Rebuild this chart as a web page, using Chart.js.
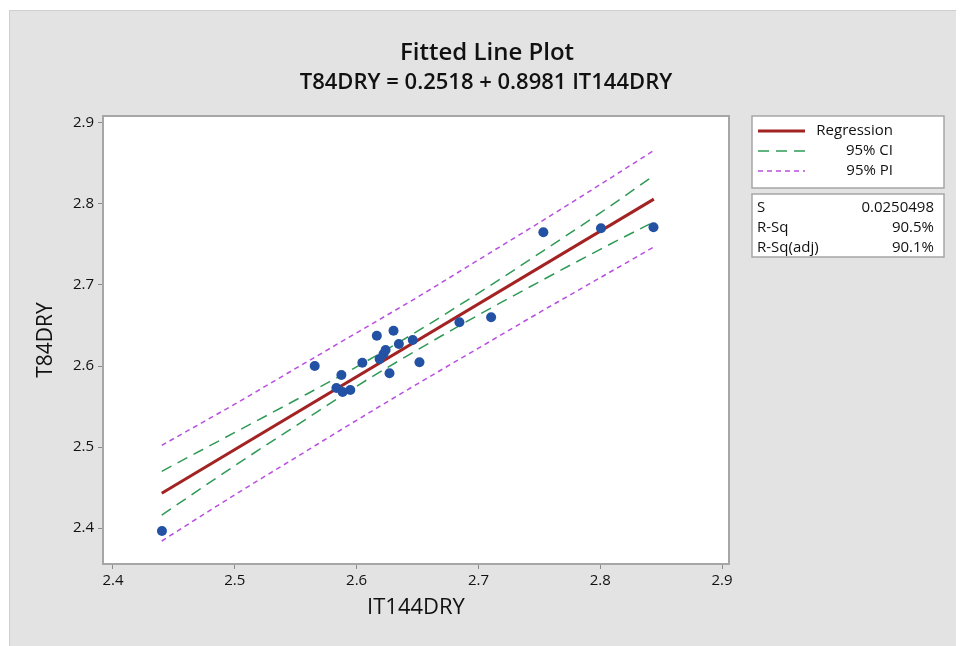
<!DOCTYPE html>
<html><head><meta charset="utf-8">
<script src="https://cdn.jsdelivr.net/npm/chart.js@4"></script>
<style>html,body{margin:0;padding:0;background:#fff}</style>
</head><body>
<canvas id="c" width="960" height="646"></canvas>
<script>
// Observations (IT144DRY, T84DRY)
const obsX = [2.4402, 2.5656, 2.5875, 2.5834, 2.5885, 2.5948, 2.6047, 2.6166, 2.6303, 2.6189, 2.6221,
              2.6238, 2.6270, 2.6347, 2.6461, 2.6516, 2.6844, 2.7104, 2.7533, 2.8006, 2.8437];
const obsY = [2.3963, 2.6000, 2.5889, 2.5728, 2.5679, 2.5704, 2.6041, 2.6374, 2.6436, 2.6086, 2.6148,
              2.6198, 2.5910, 2.6272, 2.6321, 2.6046, 2.6540, 2.6601, 2.7651, 2.7700, 2.7712];
// Regression line end points
const fitX = [2.440, 2.844];
const fitY = [2.443, 2.806];
// Confidence / prediction bands
const bandX   = [2.440, 2.500, 2.550, 2.600, 2.650, 2.700, 2.750, 2.800, 2.844];
const ciUpper = [2.470, 2.518, 2.558, 2.599, 2.643, 2.690, 2.739, 2.789, 2.835];
const ciLower = [2.416, 2.477, 2.526, 2.575, 2.620, 2.663, 2.704, 2.744, 2.778];
const piUpper = [2.502, 2.553, 2.597, 2.641, 2.685, 2.731, 2.777, 2.824, 2.866];
const piLower = [2.384, 2.441, 2.487, 2.533, 2.578, 2.622, 2.666, 2.709, 2.747];
// Tick labels
const xTicks = [2.4, 2.5, 2.6, 2.7, 2.8, 2.9];
const yTicks = [2.4, 2.5, 2.6, 2.7, 2.8, 2.9];
// Texts
const titleMain = 'Fitted Line Plot';
const titleSub = 'T84DRY = 0.2518 + 0.8981 IT144DRY';
const legendItems = ['Regression', '95% CI', '95% PI'];
const statNames = ['S', 'R-Sq', 'R-Sq(adj)'];
const statValues = ['0.0250498', '90.5%', '90.1%'];

const FONT = "'Open Sans', 'Noto Sans', sans-serif";
const C_REG = '#a32222', C_CI = '#2e9a55', C_PI = '#b94fe0', C_PT = '#2351a3';

const pairs = (xs, ys) => xs.map((x, i) => ({x: x, y: ys[i]}));

const decor = {
  id: 'decor',
  beforeDraw(chart) {
    const ctx = chart.ctx, a = chart.chartArea;
    ctx.save();
    ctx.fillStyle = '#ffffff';
    ctx.fillRect(0, 0, chart.width, chart.height);
    ctx.fillStyle = '#e3e3e3';
    ctx.fillRect(9, 10, 947, 636);
    ctx.fillStyle = '#cfcfcf';
    ctx.fillRect(9, 10, 947, 1);
    ctx.fillRect(9, 10, 1, 636);
    ctx.fillStyle = '#ffffff';
    ctx.fillRect(a.left, a.top, a.right - a.left, a.bottom - a.top);
    ctx.restore();
  },
  beforeDatasetsDraw(chart) {
    const ctx = chart.ctx, a = chart.chartArea;
    ctx.save();
    ctx.strokeStyle = '#a6a6a6';
    ctx.lineWidth = 2;
    ctx.strokeRect(a.left, a.top, a.right - a.left, a.bottom - a.top);
    ctx.restore();
  },
  afterDraw(chart) {
    const ctx = chart.ctx;
    ctx.save();
    ctx.fillStyle = '#111';
    ctx.textAlign = 'center';
    ctx.textBaseline = 'middle';
    ctx.font = "600 24px " + FONT;
    ctx.fillText(titleMain, 487, 53);
    ctx.font = "600 22px " + FONT;
    ctx.fillText(titleSub, 486, 83);

    // legend box
    const bx = 752, bw = 192;
    ctx.fillStyle = '#fff';
    ctx.fillRect(bx, 116, bw, 72);
    ctx.fillRect(bx, 194, bw, 63);
    ctx.strokeStyle = '#a6a6a6';
    ctx.lineWidth = 1.5;
    ctx.strokeRect(bx, 116, bw, 72);
    ctx.strokeRect(bx, 194, bw, 63);

    const rows = [131, 151, 171];
    const styles = [[C_REG, 3, []], [C_CI, 1.5, [11, 7]], [C_PI, 1.5, [5, 4]]];
    rows.forEach((ry, i) => {
      ctx.beginPath();
      ctx.strokeStyle = styles[i][0];
      ctx.lineWidth = styles[i][1];
      ctx.setLineDash(styles[i][2]);
      ctx.moveTo(758, ry);
      ctx.lineTo(805, ry);
      ctx.stroke();
    });
    ctx.setLineDash([]);
    ctx.fillStyle = '#111';
    ctx.font = "15px " + FONT;
    ctx.textAlign = 'right';
    legendItems.forEach((t, i) => ctx.fillText(t, 893, rows[i]));

    const srows = [208, 228, 248];
    statNames.forEach((t, i) => {
      ctx.textAlign = 'left';
      ctx.fillText(t, 757, srows[i]);
      ctx.textAlign = 'right';
      ctx.fillText(statValues[i], 934, srows[i]);
    });
    ctx.restore();
  }
};

new Chart(document.getElementById('c'), {
  type: 'scatter',
  data: {
    datasets: [
      {label: 'Observations', data: pairs(obsX, obsY), backgroundColor: C_PT, borderColor: C_PT,
       pointRadius: 5, pointHoverRadius: 5, borderWidth: 0, showLine: false},
      {label: 'Regression', type: 'line', data: pairs(fitX, fitY), borderColor: C_REG, borderWidth: 3,
       pointRadius: 0, fill: false, tension: 0},
      {label: '95% CI upper', type: 'line', data: pairs(bandX, ciUpper), borderColor: C_CI, borderWidth: 1.5,
       borderDash: [11, 7], pointRadius: 0, fill: false, cubicInterpolationMode: 'monotone'},
      {label: '95% CI lower', type: 'line', data: pairs(bandX, ciLower), borderColor: C_CI, borderWidth: 1.5,
       borderDash: [11, 7], pointRadius: 0, fill: false, cubicInterpolationMode: 'monotone'},
      {label: '95% PI upper', type: 'line', data: pairs(bandX, piUpper), borderColor: C_PI, borderWidth: 1.5,
       borderDash: [5, 4], pointRadius: 0, fill: false, cubicInterpolationMode: 'monotone'},
      {label: '95% PI lower', type: 'line', data: pairs(bandX, piLower), borderColor: C_PI, borderWidth: 1.5,
       borderDash: [5, 4], pointRadius: 0, fill: false, cubicInterpolationMode: 'monotone'}
    ]
  },
  options: {
    responsive: false,
    animation: false,
    devicePixelRatio: 1,
    layout: {padding: {left: 10, right: 231, top: 116, bottom: 0}},
    plugins: {legend: {display: false}, title: {display: false}, tooltip: {enabled: false}},
    scales: {
      x: {
        type: 'linear', min: 2.3918, max: 2.9057,
        afterBuildTicks(s) { s.ticks = xTicks.map(v => ({value: v})); },
        afterFit(s) { s.height = 82; },
        grid: {drawOnChartArea: false, tickLength: 5, color: '#8c8c8c', tickWidth: 1},
        border: {display: false},
        ticks: {padding: 3, color: '#111', font: {family: FONT, size: 15},
                callback: v => v.toFixed(1), maxRotation: 0, autoSkip: false},
        title: {display: true, text: 'IT144DRY', color: '#111', font: {family: FONT, size: 22},
                padding: {top: 0, bottom: 25}}
      },
      y: {
        type: 'linear', min: 2.3556, max: 2.9086,
        afterBuildTicks(s) { s.ticks = yTicks.map(v => ({value: v})); },
        afterFit(s) { s.width = 93; },
        grid: {drawOnChartArea: false, tickLength: 5, color: '#8c8c8c', tickWidth: 1},
        border: {display: false},
        ticks: {padding: 4, color: '#111', font: {family: FONT, size: 15},
                callback: v => v.toFixed(1), autoSkip: false},
        title: {display: true, text: 'T84DRY', color: '#111', font: {family: FONT, size: 21},
                padding: {top: 23, bottom: 0}}
      }
    }
  },
  plugins: [decor]
});
</script>
</body></html>
